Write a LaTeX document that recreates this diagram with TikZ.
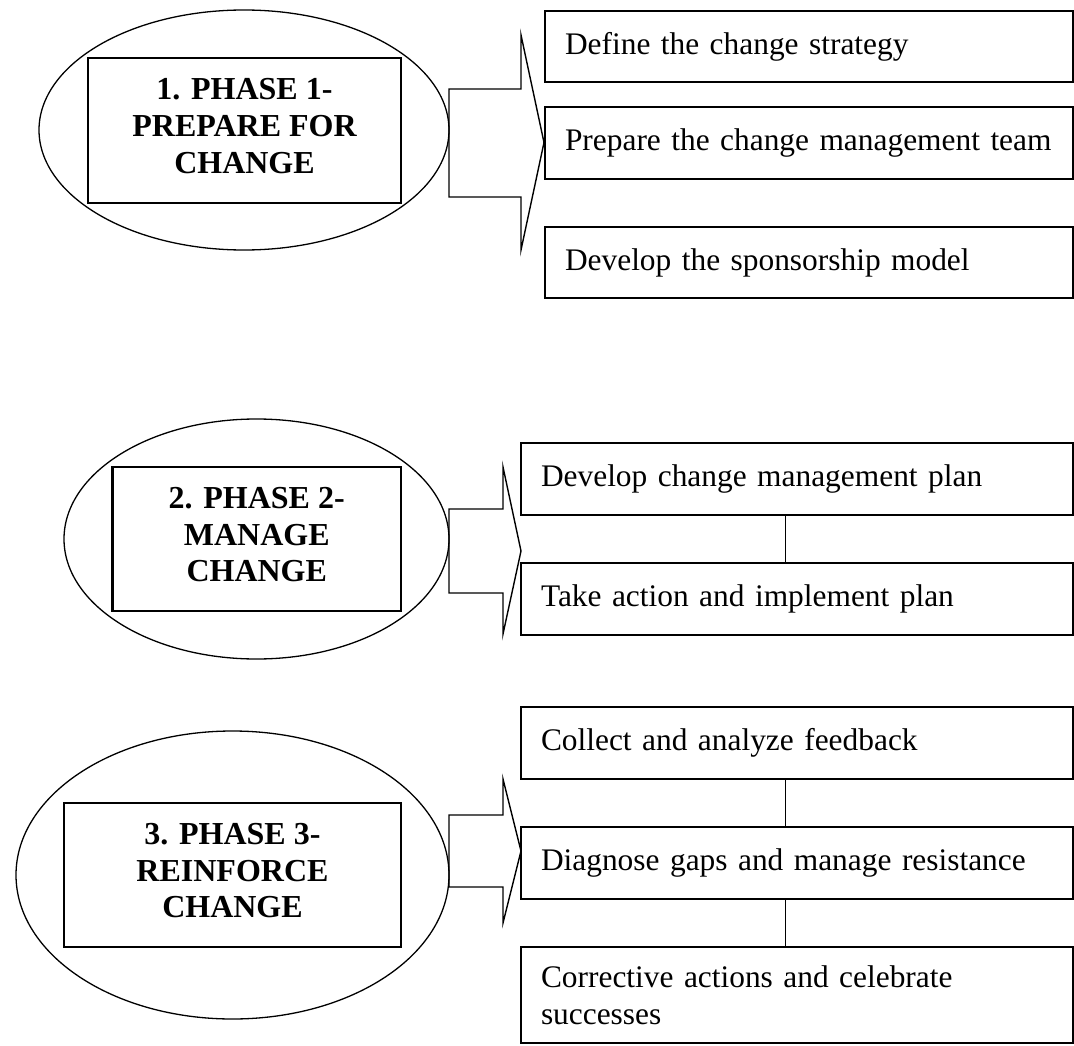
\documentclass[tikz,border=0pt]{standalone}
\usepackage{fontspec}
\setmainfont{Liberation Serif}
\usetikzlibrary{shapes.geometric}
\begin{document}
\begin{tikzpicture}[x=1pt,y=-1pt,
  phaseoval/.style={draw, ellipse, line width=1.3pt, inner sep=0pt},
  phasebox/.style={draw, line width=2.2pt, inner sep=0pt, align=center,
    font=\fontsize{32}{36.8}\selectfont\bfseries, text depth=9pt},
  taskbox/.style={draw, line width=2pt, inner xsep=20pt, inner ysep=0pt, align=left,
    font=\fontsize{31.4}{36.8}\selectfont},
  blockarrow/.style={draw, line width=1.4pt, line join=miter},
  link/.style={draw, line width=1pt}
]
\useasboundingbox (0,0) rectangle (1074,1046);

% Phase ovals
\node[phaseoval, minimum width=410pt, minimum height=240pt] (e1) at (244,130) {};
\node[phaseoval, minimum width=385pt, minimum height=240pt] (e2) at (256.5,539) {};
\node[phaseoval, minimum width=433pt, minimum height=288pt] (e3) at (232.5,875) {};

% Phase boxes
\node[phasebox, minimum width=313pt, minimum height=145pt] (r1) at (244.5,130.5)
  {1. PHASE 1-\\PREPARE FOR\\CHANGE};
\node[phasebox, minimum width=288.5pt, minimum height=144pt] (r2) at (256.75,539)
  {2. PHASE 2-\\MANAGE\\CHANGE};
\node[phasebox, minimum width=337pt, minimum height=144pt] (r3) at (232.5,875)
  {3. PHASE 3-\\REINFORCE\\CHANGE};

% Block arrows
\draw[blockarrow] (449,89) -- (521,89) -- (521,35) -- (544,142.5) -- (521,250)
  -- (521,197) -- (449,197) -- cycle;
\draw[blockarrow] (449,509) -- (503,509) -- (503,467) -- (521,551) -- (503,634)
  -- (503,593) -- (449,593) -- cycle;
\draw[blockarrow] (449,815) -- (503,815) -- (503,779) -- (521,851) -- (503,923)
  -- (503,887) -- (449,887) -- cycle;

% Phase 1 tasks
\node[taskbox, minimum width=528pt, text width=488pt, minimum height=71pt] (a1) at (809,46.5)
  {Define the change strategy};
\node[taskbox, minimum width=528pt, text width=488pt, minimum height=72pt] (a2) at (809,143)
  {\mbox{Prepare the change management team}};
\node[taskbox, minimum width=528pt, text width=488pt, minimum height=71pt] (a3) at (809,262.5)
  {Develop the sponsorship model};

% Phase 2 tasks
\node[taskbox, minimum width=552pt, text width=512pt, minimum height=72pt] (b1) at (797,479)
  {Develop change management plan};
\node[taskbox, minimum width=552pt, text width=512pt, minimum height=72pt] (b2) at (797,599)
  {Take action and implement plan};

% Phase 3 tasks
\node[taskbox, minimum width=552pt, text width=512pt, minimum height=72pt] (c1) at (797,743)
  {Collect and analyze feedback};
\node[taskbox, minimum width=552pt, text width=512pt, minimum height=72pt] (c2) at (797,863)
  {\mbox{Diagnose gaps and manage resistance}};
\node[taskbox, minimum width=552pt, text width=512pt, minimum height=96pt] (c3) at (797,995)
  {Corrective actions and celebrate\\successes};

% Connectors
\draw[link] ([xshift=-12pt]b1.south) -- ([xshift=-12pt]b2.north);
\draw[link] ([xshift=-12pt]c1.south) -- ([xshift=-12pt]c2.north);
\draw[link] ([xshift=-12pt]c2.south) -- ([xshift=-12pt]c3.north);
\end{tikzpicture}
\end{document}
